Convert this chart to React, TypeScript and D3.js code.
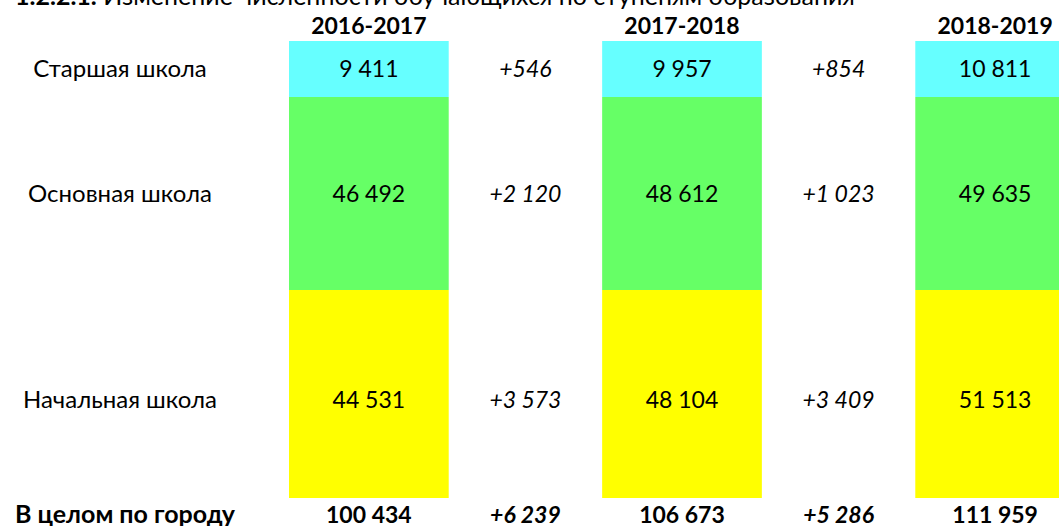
import * as d3 from "d3";

const years = ["2016-2017", "2017-2018", "2018-2019"];
const levels = ["Старшая школа", "Основная школа", "Начальная школа"];
const senior = [9411, 9957, 10811];
const basic = [46492, 48612, 49635];
const primary = [44531, 48104, 51513];
const levelColors = ["#66ffff", "#66ff66", "#ffff00"];
const titleNum = "1.2.2.1.";
const titleText = "Изменение  численности обучающихся по ступеням образования";
const totalLabel = "В целом по городу";

// table row heights (px), like the merged cells of the sheet
const rowHeights = [56, 193, 208];

const W = 1059,
  H = 526;
const FONT = "Lato, 'Open Sans', sans-serif";
const FS = 23;

const loc = d3.formatLocale({ decimal: ",", thousands: " ", grouping: [3], currency: ["", ""] });
const fmt = loc.format(",d");
const fmtDiff = loc.format("+,d");

export default function App() {
  const values = [senior, basic, primary];
  const totals = years.map((_, i) => d3.sum(values, (v) => v[i]));

  const tableTop = 41;
  const edges = [tableTop, ...Array.from(d3.cumsum(rowHeights), (c) => tableTop + c)];
  const y = d3.scaleOrdinal<string, number>().domain(levels).range(edges.slice(0, -1));
  const rowH = (l: string) => rowHeights[levels.indexOf(l)];

  const x = d3.scaleBand().domain(years).range([289, 1075]).paddingInner(0.49);
  const bw = x.bandwidth();
  const labelX = 120;
  const headerY = 34;
  const totalY = 523;
  const gaps = years.slice(1).map((yr, i) => ({
    cx: ((x(years[i]) as number) + bw + (x(yr) as number)) / 2,
    i,
  }));

  const textY = (l: string, k: number) => y(l) + rowH(l) / 2 + 8 + (k === 2 ? 6 : 0);

  return (
    <svg
      width={W}
      height={H}
      style={{ position: "absolute", left: 0, top: 0, background: "#fff" }}
      fontFamily={FONT}
      fontSize={FS}
    >
      <text x={15} y={5} fill="#000" fontSize={25}>
        <tspan fontWeight="bold">{titleNum}</tspan>
        <tspan>{"  " + titleText}</tspan>
      </text>

      {years.map((yr) => (
        <text key={yr} x={(x(yr) as number) + bw / 2} y={headerY} textAnchor="middle" fontWeight="bold">
          {yr}
        </text>
      ))}

      {levels.map((l, k) => (
        <g key={l}>
          <text x={labelX} y={textY(l, k)} textAnchor="middle" fontSize={24}>
            {l}
          </text>
          {years.map((yr, i) => (
            <g key={yr}>
              <rect x={x(yr)} y={y(l)} width={bw} height={rowH(l)} fill={levelColors[k]} />
              <text x={(x(yr) as number) + bw / 2} y={textY(l, k)} textAnchor="middle">
                {fmt(values[k][i])}
              </text>
            </g>
          ))}
          {gaps.map((g) => (
            <text key={g.i} x={g.cx} y={textY(l, k)} textAnchor="middle" fontStyle="italic">
              {fmtDiff(values[k][g.i + 1] - values[k][g.i])}
            </text>
          ))}
        </g>
      ))}

      <text x={labelX + 5} y={totalY} textAnchor="middle" fontWeight="bold" fontSize={25}>
        {totalLabel}
      </text>
      {years.map((yr, i) => (
        <text key={yr} x={(x(yr) as number) + bw / 2} y={totalY} textAnchor="middle" fontWeight="bold">
          {fmt(totals[i])}
        </text>
      ))}
      {gaps.map((g) => (
        <text key={g.i} x={g.cx} y={totalY} textAnchor="middle" fontWeight="bold" fontStyle="italic">
          {fmtDiff(totals[g.i + 1] - totals[g.i])}
        </text>
      ))}
    </svg>
  );
}
